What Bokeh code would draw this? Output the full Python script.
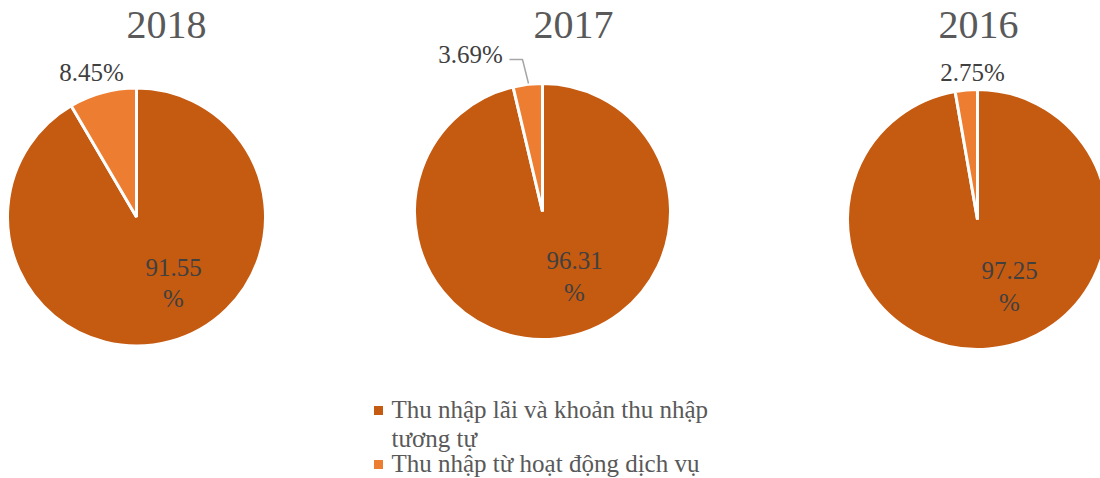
from bokeh.plotting import figure
from bokeh.models import Range1d
from bokeh.core.properties import value
from bokeh.embed import file_html
from bokeh.resources import INLINE
import math

years = ["2018", "2017", "2016"]
interest_share = [91.55, 96.31, 97.25]
service_share = [8.45, 3.69, 2.75]
series_names = ["Thu nhập lãi và khoản thu nhập\ntương tự", "Thu nhập từ hoạt động dịch vụ"]
colors = ["#C55A11", "#ED7D31"]

W, H = 1100, 478
FONT = "Liberation Serif"

# layout (screen px): pie centers, radii, title centers
centers = [(136, 216.5), (542, 211), (977, 219)]
radii = [129, 128, 130]
title_x = [166, 573, 978]
title_y = 24
inner_off = [(37, 66), (32, 65), (32, 67)]
outer_pos = [(91, 72), (470, 54), (972, 72)]

def Y(py):
    return H - py

p = figure(width=W, height=H, x_range=Range1d(0, W), y_range=Range1d(0, H),
           output_backend="svg", toolbar_location=None, min_border=0)
p.axis.visible = False
p.grid.visible = False
p.outline_line_color = None
p.background_fill_color = "white"
p.border_fill_color = "white"

for i, yr in enumerate(years):
    cx, cy = centers[i]
    r = radii[i]
    a_main = interest_share[i] / 100 * 2 * math.pi
    a_srv = service_share[i] / 100 * 2 * math.pi
    top = math.pi / 2
    # main slice: clockwise from 12 o'clock
    p.wedge(x=[cx], y=[Y(cy)], radius=r, start_angle=top - a_main, end_angle=top,
            fill_color=colors[0], line_color="white", line_width=3)
    # service slice: ends at 12 o'clock
    p.wedge(x=[cx], y=[Y(cy)], radius=r, start_angle=top, end_angle=top + a_srv,
            fill_color=colors[1], line_color="white", line_width=3)
    # title
    p.text(x=[title_x[i]], y=[Y(title_y)], text=[yr], text_font=value(FONT),
           text_font_size="40px", text_color="#595959", text_align="center",
           text_baseline="middle")
    # inner label
    p.text(x=[cx + inner_off[i][0]], y=[Y(cy + inner_off[i][1])],
           text=[f"{interest_share[i]:.2f}\n%"], text_font=value(FONT),
           text_font_size="25px", text_color="#404040", text_align="center",
           text_baseline="middle", text_line_height=1.15)
    # outer label
    ox, oy = outer_pos[i]
    p.text(x=[ox], y=[Y(oy)], text=[f"{service_share[i]:.2f}%"], text_font=value(FONT),
           text_font_size="25px", text_color="#404040", text_align="center",
           text_baseline="middle")

# leader line for 2017 label
p.line(x=[509, 522, 528], y=[Y(59), Y(59), Y(83)], line_color="#A6A6A6", line_width=1.5)

# legend
leg_x = 378
leg_rows = [410, 464]
for j, name in enumerate(series_names):
    p.rect(x=[leg_x], y=[Y(leg_rows[j])], width=9, height=9, fill_color=colors[j], line_color=None)
    p.text(x=[leg_x + 13], y=[Y(leg_rows[j] - 15)], text=[name], text_font=value(FONT),
           text_font_size="25px", text_color="#595959", text_align="left",
           text_baseline="top", text_line_height=1.08)

open("out.html", "w").write(file_html(p, INLINE))
